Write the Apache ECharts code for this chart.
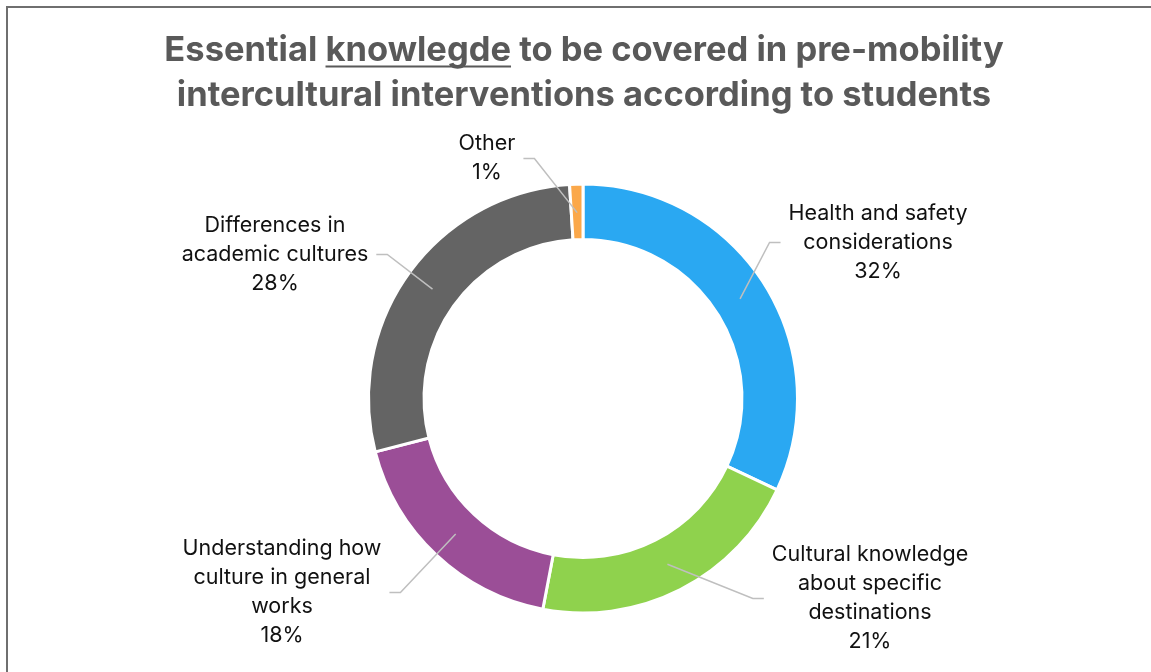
<!DOCTYPE html>
<html>
<head>
<meta charset="utf-8">
<title>Essential knowlegde – pre-mobility interventions</title>
<script src="https://cdn.jsdelivr.net/npm/echarts@6/dist/echarts.min.js"></script>
<style>
  html, body { margin: 0; padding: 0; background: #ffffff; }
  #chart { width: 1151px; height: 672px; }
</style>
</head>
<body>
<div id="chart"></div>
<script>
// ---- data ----
const categories = [
  'Health and safety\nconsiderations',
  'Cultural knowledge\nabout specific\ndestinations',
  'Understanding how\nculture in general\nworks',
  'Differences in\nacademic cultures',
  'Other'
];
const shares = [32, 21, 18, 28, 1];
const sliceColors = ['#2AA8F2', '#8FD24D', '#9B4E97', '#646464', '#FBA84A'];
const titleLines = [
  'Essential knowlegde to be covered in pre-mobility',
  'intercultural interventions according to students'
];
const underlinedWord = 'knowlegde';

// ---- layout ----
const CX = 583, CY = 398.5;          // ring centre
const R_IN = 159, R_OUT = 214.5;     // ring radii (white border eats ~1.5px each side)
const R_MID = 186;                   // where leader lines start inside the ring
const GAP = 3;                       // white gap between slices
// label block centres, relative to the ring centre
const labelOffsets = [
  [295, -156],
  [287, 200],
  [-301, 194],
  [-308, -144],
  [-96, -240]
];
const TITLE_X = 584;
const TITLE_Y = [51, 96];
const TITLE_FONT_SIZE = 34.5;
const TITLE_FAMILY = 'Inter, "Noto Sans", sans-serif';
const TITLE_COLOR = '#595959';

const chart = echarts.init(document.getElementById('chart'), null, { renderer: 'canvas' });

const total = shares.reduce((a, b) => a + b, 0);
// mid angle of each slice, clockwise from 12 o'clock
const midAngles = [];
(function () {
  let acc = 0;
  shares.forEach(v => {
    midAngles.push(((acc + v / 2) / total) * Math.PI * 2);
    acc += v;
  });
})();

// underline under one word of the first title line
const measure = document.createElement('canvas').getContext('2d');
measure.font = 'bold ' + TITLE_FONT_SIZE + 'px ' + TITLE_FAMILY;
const line0 = titleLines[0];
const preW = measure.measureText(line0.slice(0, line0.indexOf(underlinedWord))).width;
const wordW = measure.measureText(underlinedWord).width;
const fullW = measure.measureText(line0).width;
const ulX0 = TITLE_X - fullW / 2 + preW;

const pieData = (withColor) => categories.map((name, i) => ({
  name: name,
  value: shares[i],
  itemStyle: withColor ? { color: sliceColors[i] } : { color: 'rgba(0,0,0,0)', borderWidth: 0 }
}));

const option = {
  backgroundColor: '#ffffff',
  animation: false,
  graphic: [
    {
      type: 'rect',
      silent: true,
      shape: { x: 7, y: 7, width: 1300, height: 800 },
      style: { fill: 'none', stroke: '#6F6F6F', lineWidth: 2 }
    },
    {
      type: 'text',
      style: {
        text: titleLines[0], x: TITLE_X, y: TITLE_Y[0], align: 'center', verticalAlign: 'middle',
        fill: TITLE_COLOR, font: 'bold ' + TITLE_FONT_SIZE + 'px ' + TITLE_FAMILY
      }
    },
    {
      type: 'text',
      style: {
        text: titleLines[1], x: TITLE_X, y: TITLE_Y[1], align: 'center', verticalAlign: 'middle',
        fill: TITLE_COLOR, font: 'bold ' + TITLE_FONT_SIZE + 'px ' + TITLE_FAMILY
      }
    },
    {
      type: 'line',
      silent: true,
      shape: { x1: ulX0, y1: TITLE_Y[0] + 15.5, x2: ulX0 + wordW, y2: TITLE_Y[0] + 15.5 },
      style: { stroke: TITLE_COLOR, lineWidth: 2 }
    }
  ],
  series: [
    // coloured ring
    {
      type: 'pie',
      z: 2,
      center: [CX, CY],
      radius: [R_IN, R_OUT],
      startAngle: 90,
      clockwise: true,
      silent: true,
      itemStyle: { borderColor: '#ffffff', borderWidth: GAP },
      emphasis: { disabled: true },
      label: { show: false },
      labelLine: { show: false },
      data: pieData(true)
    },
    // labels and leader lines, drawn above the ring
    {
      type: 'pie',
      z: 3,
      center: [CX, CY],
      radius: [R_IN, R_OUT],
      startAngle: 90,
      clockwise: true,
      silent: true,
      avoidLabelOverlap: false,
      percentPrecision: 0,
      emphasis: { disabled: true },
      label: {
        show: true,
        position: 'outside',
        formatter: '{b}\n{d}%',
        fontFamily: 'Inter, "Noto Sans", sans-serif',
        fontSize: 21.5,
        lineHeight: 29,
        color: '#111111',
        align: 'center'
      },
      labelLine: {
        show: true,
        length: 10,
        length2: 10,
        lineStyle: { color: '#BFBFBF', width: 1.5 }
      },
      labelLayout: function (p) {
        const i = p.dataIndex;
        const off = labelOffsets[i];
        const x = CX + off[0];
        const y = CY + off[1];
        const w = p.labelRect.width;
        const side = off[0] >= 0 ? 1 : -1;
        const end = [x - side * (w / 2 + 8), y];
        const elbow = [end[0] - side * 11, y];
        const a = midAngles[i];
        const start = [CX + R_MID * Math.sin(a), CY - R_MID * Math.cos(a)];
        return {
          x: x,
          y: y,
          align: 'center',
          verticalAlign: 'middle',
          labelLinePoints: [start, elbow, end]
        };
      },
      data: pieData(false)
    }
  ]
};

chart.setOption(option);
</script>
</body>
</html>
